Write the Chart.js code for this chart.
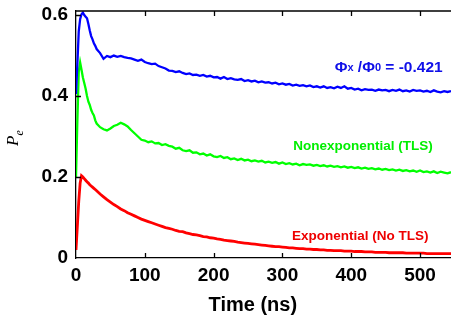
<!DOCTYPE html>
<html>
<head>
<meta charset="utf-8">
<script src="https://cdn.jsdelivr.net/npm/chart.js@4"></script>
<style>
html,body{margin:0;padding:0;background:#fff;}
#c{display:block;}
</style>
</head>
<body>
<canvas id="c" width="451" height="320"></canvas>
<script>
// ---- data ----
const timeNs = [0,2,4,6,8,10,12,14,16,18,20,22,24,26,28,30,
  35,40,45,50,55,60,65,70,75,80,85,90,95,100,
  105,110,115,120,125,130,135,140,145,150,155,160,165,170,175,180,185,190,195,200,
  205,210,215,220,225,230,235,240,245,250,255,260,265,270,275,280,285,290,295,300,
  305,310,315,320,325,330,335,340,345,350,355,360,365,370,375,380,385,390,395,400,
  405,410,415,420,425,430,435,440,445,450,455,460,465,470,475,480,485,490,495,500,
  505,510,515,520,525,530,535,540,545];

const bluePe = [0.405,0.48,0.56,0.59,0.602,0.606,0.600,0.596,0.592,0.578,0.562,0.548,0.540,0.530,0.524,0.516,
  0.506,0.492,0.499,0.496,0.500,0.497,0.499,0.496,0.494,0.493,0.490,0.487,0.490,0.484,
  0.481,0.479,0.480,0.474,0.471,0.468,0.463,0.462,0.459,0.461,0.457,0.454,0.456,0.452,0.453,0.450,0.452,0.448,0.450,0.446,
  0.447,0.443,0.447,0.442,0.444,0.441,0.440,0.442,0.437,0.439,0.436,0.438,0.434,0.436,0.433,0.434,0.431,0.433,0.429,0.431,
  0.428,0.430,0.426,0.428,0.425,0.427,0.424,0.426,0.422,0.424,0.421,0.424,0.420,0.422,0.419,0.423,0.420,0.424,0.418,0.420,
  0.416,0.418,0.414,0.417,0.415,0.416,0.413,0.416,0.414,0.415,0.412,0.415,0.413,0.416,0.412,0.414,0.411,0.415,0.413,0.414,
  0.411,0.413,0.410,0.414,0.411,0.409,0.412,0.410,0.412];

const greenPe = [0.20,0.34,0.46,0.483,0.465,0.446,0.432,0.418,0.400,0.386,0.378,0.366,0.358,0.352,0.340,0.332,
  0.323,0.318,0.315,0.320,0.326,0.329,0.334,0.330,0.325,0.316,0.308,0.300,0.292,0.290,
  0.286,0.288,0.283,0.284,0.279,0.281,0.277,0.275,0.270,0.272,0.266,0.264,0.266,0.260,0.261,0.256,0.258,0.253,0.256,0.251,
  0.249,0.252,0.247,0.249,0.244,0.246,0.242,0.245,0.241,0.243,0.239,0.241,0.238,0.240,0.236,0.238,0.235,0.237,0.233,0.236,
  0.232,0.234,0.231,0.233,0.229,0.232,0.230,0.231,0.228,0.230,0.227,0.229,0.226,0.228,0.225,0.227,0.224,0.226,0.223,0.225,
  0.222,0.224,0.221,0.223,0.220,0.222,0.219,0.221,0.218,0.220,0.217,0.219,0.216,0.218,0.215,0.217,0.214,0.216,0.213,0.216,
  0.212,0.214,0.211,0.214,0.210,0.213,0.211,0.209,0.212];

const redPe = [0.02,0.08,0.14,0.185,0.203,0.200,0.196,0.192,0.188,0.185,0.181,0.178,0.175,0.172,0.169,0.166,
  0.158,0.151,0.144,0.138,0.132,0.127,0.121,0.117,0.112,0.108,0.104,0.100,0.096,0.093,
  0.090,0.087,0.084,0.081,0.078,0.075,0.073,0.071,0.068,0.066,0.065,0.062,0.060,0.058,0.057,0.055,0.053,0.052,0.050,0.049,
  0.047,0.046,0.044,0.043,0.042,0.041,0.039,0.038,0.037,0.036,0.035,0.034,0.033,0.032,0.031,0.030,0.029,0.028,0.028,0.027,
  0.026,0.025,0.025,0.024,0.023,0.023,0.022,0.022,0.021,0.021,0.020,0.020,0.019,0.019,0.018,0.018,0.018,0.017,0.017,0.017,
  0.016,0.016,0.016,0.015,0.015,0.015,0.014,0.014,0.014,0.014,0.013,0.013,0.013,0.013,0.013,0.012,0.012,0.012,0.012,0.012,
  0.012,0.011,0.011,0.011,0.011,0.011,0.011,0.011,0.011];

const xTicks = [0,100,200,300,400,500];
const yTicks = [0,0.2,0.4,0.6];
const xTitle = 'Time (ns)';
const blueLabel = ['Φ','x',' /Φ','0',' = -0.421'];
const greenLabel = 'Nonexponential (TLS)';
const redLabel = 'Exponential (No TLS)';

// ---- chart ----
const pts = (ys) => timeNs.map((t,i) => ({x:t, y:ys[i]}));
const FONT = "'Liberation Sans', Arial, sans-serif";

const deco = {
  id:'deco',
  afterDatasetsDraw(chart){
    const {ctx, chartArea:a, scales:{x,y}} = chart;
    ctx.save();
    // frame top line and inward ticks
    ctx.strokeStyle='#000'; ctx.lineWidth=1.3;
    ctx.beginPath();
    ctx.moveTo(a.left, a.top); ctx.lineTo(a.right, a.top);
    xTicks.forEach(v => {
      const px = Math.round(x.getPixelForValue(v))+0.5;
      if (v===0) return;
      ctx.moveTo(px, a.bottom); ctx.lineTo(px, a.bottom-5);
      ctx.moveTo(px, a.top); ctx.lineTo(px, a.top+5);
    });
    yTicks.forEach(v => {
      const py = Math.round(y.getPixelForValue(v))+0.5;
      if (v===0) return;
      ctx.moveTo(a.left, py); ctx.lineTo(a.left+5, py);
    });
    ctx.stroke();

    // annotations
    ctx.textBaseline='alphabetic';
    // blue
    ctx.fillStyle='#1010e8';
    let bx = x.getPixelForValue(376), by = y.getPixelForValue(0.4595);
    const sizes=[15.5,11,15.5,11,15.5], drops=[0,-0.5,0,-0.5,0];
    blueLabel.forEach((s,i)=>{
      ctx.font = 'bold '+sizes[i]+'px '+FONT;
      ctx.textAlign='left';
      ctx.fillText(s, bx, by+drops[i]);
      bx += ctx.measureText(s).width;
    });
    // green
    ctx.textBaseline='middle';
    ctx.font='bold 13.5px '+FONT; ctx.textAlign='center';
    ctx.fillStyle='#00ee00';
    ctx.fillText(greenLabel, x.getPixelForValue(417), y.getPixelForValue(0.275));
    // red
    ctx.fillStyle='#ee0000';
    ctx.fillText(redLabel, x.getPixelForValue(413), y.getPixelForValue(0.054));

    // axis titles
    ctx.fillStyle='#000';
    ctx.font='bold 20px '+FONT; ctx.textAlign='center';
    ctx.fillText(xTitle, x.getPixelForValue(257), 305);
    // y title: italic P with subscript e, rotated
    ctx.textBaseline='alphabetic';
    ctx.translate(18, 146);
    ctx.rotate(-Math.PI/2);
    ctx.textAlign='left';
    ctx.font='italic 17px "Liberation Serif", serif';
    const pw = ctx.measureText('P').width;
    ctx.fillText('P', 0, 0);
    ctx.font='italic 12px "Liberation Serif", serif';
    ctx.fillText('e', pw, 5);
    ctx.restore();
  }
};

new Chart(document.getElementById('c'), {
  type:'line',
  data:{
    datasets:[
      {label:'blue', data:pts(bluePe), borderColor:'#0000ff', borderWidth:2.3},
      {label:'green', data:pts(greenPe), borderColor:'#00ff00', borderWidth:2.3},
      {label:'red', data:pts(redPe), borderColor:'#ff0000', borderWidth:2.8}
    ]
  },
  options:{
    responsive:false,
    animation:false,
    events:[],
    layout:{padding:{top:11,right:0,left:0,bottom:0}},
    elements:{point:{radius:0}, line:{tension:0}},
    plugins:{legend:{display:false}, tooltip:{enabled:false}},
    scales:{
      x:{
        type:'linear', min:0, max:545,
        afterFit(s){ s.height = 62; s.paddingLeft = 0; s.paddingRight = 0; },
        afterBuildTicks(s){ s.ticks = xTicks.map(v=>({value:v})); },
        grid:{display:false, drawTicks:false},
        border:{display:true, color:'#000', width:1.3},
        ticks:{color:'#000', font:{family:FONT, size:19, weight:'bold'}, padding:6, maxRotation:0, autoSkip:false}
      },
      y:{
        type:'linear', min:0, max:0.61,
        afterFit(s){ s.width = 76; s.paddingTop = 0; s.paddingBottom = 0; },
        afterBuildTicks(s){ s.ticks = yTicks.map(v=>({value:v})); },
        grid:{display:false, drawTicks:false},
        border:{display:true, color:'#000', width:1.3},
        ticks:{color:'#000', font:{family:FONT, size:19, weight:'bold'}, padding:8,
          callback:(v)=> v===0 ? '0' : String(v)}
      }
    }
  },
  plugins:[deco]
});
</script>
</body>
</html>
